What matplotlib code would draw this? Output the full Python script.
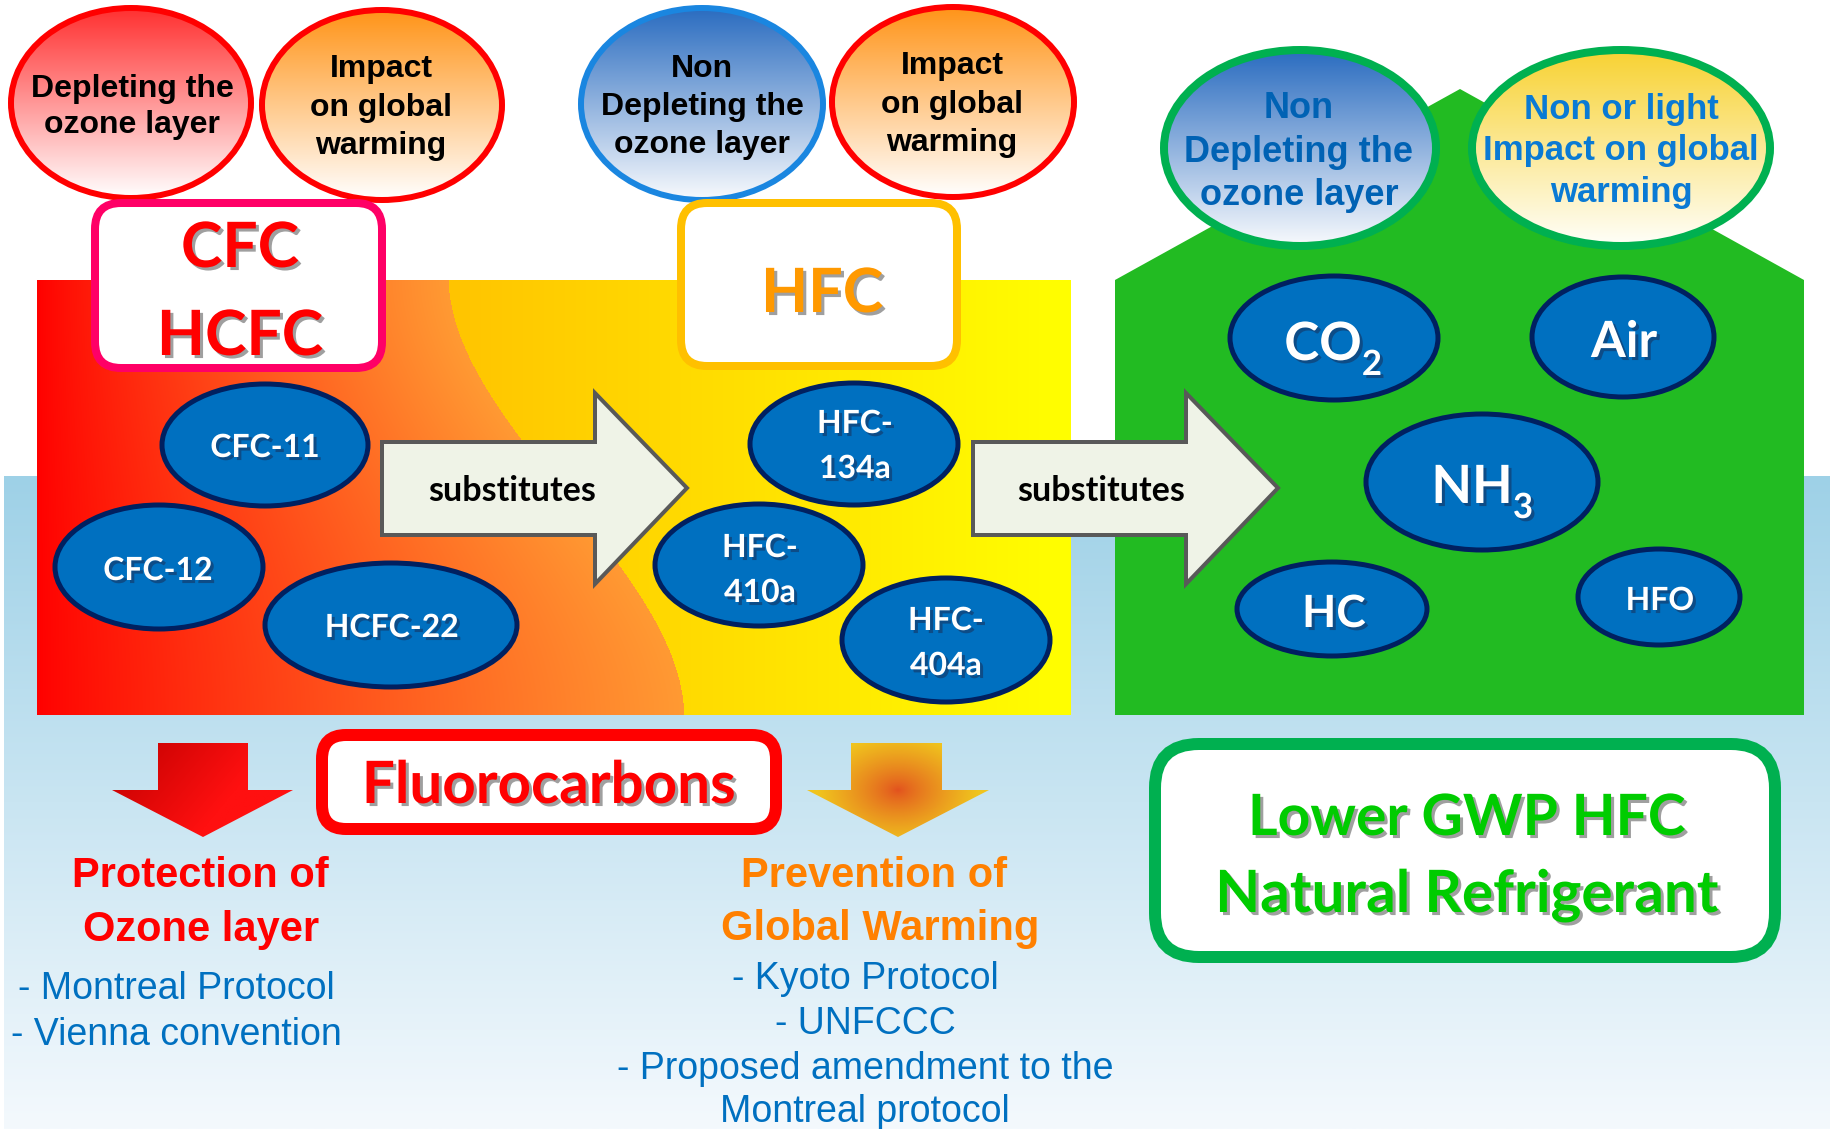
import numpy as np
import matplotlib
matplotlib.use("Agg")
import matplotlib.pyplot as plt
from matplotlib.patches import Ellipse, FancyBboxPatch, Polygon
from matplotlib.colors import to_rgb
import matplotlib.patheffects as pe

# ---------------- content ----------------
old_group_labels = ["CFC", "HCFC"]
hfc_group_label = "HFC"
old_refrigerants = ["CFC-11", "CFC-12", "HCFC-22"]
hfc_refrigerants = [["HFC-", "134a"], ["HFC-", "410a"], ["HFC-", "404a"]]
natural_refrigerants = ["Air", "HC", "HFO"]
subscripted = [("CO", "2"), ("NH", "3")]
arrow_label = "substitutes"
bubble_cfc = [["Depleting the", "ozone layer"], ["Impact", "on global", "warming"]]
bubble_hfc = [["Non", "Depleting the", "ozone layer"], ["Impact", "on global", "warming"]]
bubble_nat = [["Non", "Depleting the", "ozone layer"], ["Non or light", "Impact on global", "warming"]]
center_label = "Fluorocarbons"
ozone_title = ["Protection of", "Ozone layer"]
ozone_items = ["- Montreal Protocol", "- Vienna convention"]
climate_title = ["Prevention of", "Global Warming"]
climate_items = ["- Kyoto Protocol", "- UNFCCC", "- Proposed amendment to the", "Montreal protocol"]
future_label = ["Lower GWP HFC", "Natural Refrigerant"]

# ---------------- figure ----------------
W, H = 1831, 1129
PX = 0.72  # points per pixel at dpi 100
fig = plt.figure(figsize=(W / 100, H / 100), dpi=100)
ax = fig.add_axes([0, 0, 1, 1])
ax.set_xlim(0, W)
ax.set_ylim(H, 0)
ax.axis("off")
ax.set_autoscale_on(False)

ARIAL = "Liberation Sans"
CALIBRI = "Lato"


def lerp(c0, c1, t):
    a = np.array(to_rgb(c0))
    b = np.array(to_rgb(c1))
    t = np.asarray(t)[..., None]
    return a + (b - a) * t


def vgrad(top, bottom, n=256):
    t = np.linspace(0, 1, n)
    g = lerp(top, bottom, t)
    return np.repeat(g[:, None, :], 2, axis=1)


def clipped(arr, extent, clip, z):
    im = ax.imshow(arr, extent=extent, origin="upper", aspect="auto",
                   interpolation="bilinear", zorder=z)
    clip.set_transform(ax.transData)
    im.set_clip_path(clip)
    return im


def grad_ellipse(c, rx, ry, top, bottom, edge, lw, z=4):
    cx, cy = c
    clipped(vgrad(top, bottom), (cx - rx, cx + rx, cy + ry, cy - ry),
            Ellipse((cx, cy), 2 * rx, 2 * ry), z)
    ax.add_patch(Ellipse((cx, cy), 2 * rx, 2 * ry, fc="none", ec=edge,
                         lw=lw * PX, zorder=z + 0.5))


def txt(x, base, s, size, color, fam=ARIAL, weight="bold", ha="center",
        shadow=None, z=20):
    t = ax.text(x, base, s, fontsize=size, color=color, family=fam,
                fontweight=weight, ha=ha, va="baseline", zorder=z)
    if shadow:
        t.set_path_effects([pe.withSimplePatchShadow(offset=(2.2, -2.2),
                                                     shadow_rgbFace=shadow,
                                                     alpha=0.5)])
    return t


def molecule(c, rx, ry, z=8):
    ax.add_patch(Ellipse(c, 2 * rx, 2 * ry, fc="#0070c0", ec="#002060",
                         lw=5 * PX, zorder=z))


def rbox(x0, y0, x1, y1, r, ec, lw, z=6):
    ax.add_patch(FancyBboxPatch((x0, y0), x1 - x0, y1 - y0,
                                boxstyle=f"round,pad=0,rounding_size={r}",
                                fc="white", ec=ec, lw=lw * PX, zorder=z))


# ---------------- background ----------------
ax.imshow(vgrad("#9ed1e7", "#f4f9fd"), extent=(4, W, H, 476), origin="upper",
          aspect="auto", interpolation="bilinear", zorder=0)

# red / yellow band with a smooth curved boundary
x0, x1, y0, y1 = 37, 1071, 280, 715
xs = np.arange(x0, x1) + 0.5
ys = np.arange(y0, y1) + 0.5
curve = np.polyfit([280, 380, 413, 440, 580, 647, 715],
                   [449, 480, 502, 523, 631, 666, 685], 3)
bx = np.polyval(curve, ys)
X, Y = np.meshgrid(xs, ys)
bxx = bx[:, None]
tL = np.clip((X - x0) / (bxx - x0), 0, 1) ** 0.85
tR = np.clip((X - 449) / (x1 - 449), 0, 1)
band = np.where((X < bxx)[..., None], lerp("#ff0000", "#ff9a33", tL),
                lerp("#ffc400", "#ffff00", tR))
ax.imshow(band, extent=(x0, x1, y1, y0), origin="upper", aspect="auto",
          interpolation="bilinear", zorder=1)

# green house
ax.add_patch(Polygon([(1115, 715), (1115, 280), (1460, 89), (1804, 280),
                      (1804, 715)], closed=True, fc="#22bb22", ec="none",
                     zorder=1))

# ---------------- top bubbles ----------------
RED = "#ff0000"
grad_ellipse((131, 103), 120, 95, "#ff3030", "#ffffff", RED, 6)
grad_ellipse((382, 105), 120, 95, "#ff9418", "#ffffff", RED, 6)
grad_ellipse((702, 104), 121, 96, "#2a6cc0", "#f8fafd", "#1a86e0", 6)
grad_ellipse((953, 102), 121, 95, "#ff9418", "#ffffff", RED, 6)
grad_ellipse((1300, 148), 136, 98, "#2a6cc0", "#f8fafd", "#00b050", 8)
grad_ellipse((1621, 148), 149, 98, "#f8d232", "#fffffa", "#00b050", 8)

for s, b in zip(bubble_cfc[0], [97, 133]):
    txt(132, b, s, 23, "black")
for s, b in zip(bubble_cfc[1], [77, 116, 154]):
    txt(381, b, s, 23, "black")
for s, b in zip(bubble_hfc[0], [77, 115, 153]):
    txt(702, b, s, 23, "black")
for s, b in zip(bubble_hfc[1], [74, 113, 151]):
    txt(952, b, s, 23, "black")
for s, b in zip(bubble_nat[0], [118, 162, 205]):
    txt(1299, b, s, 26, "#0062b4")
for s, b in zip(bubble_nat[1], [119, 160, 202]):
    txt(1621, b, s, 25, "#0a7ad4")

# ---------------- group boxes ----------------
rbox(95, 203, 382, 368, 26, "#ff0066", 8)
txt(240, 267, old_group_labels[0], 45, RED, CALIBRI, shadow="#404040")
txt(240, 355, old_group_labels[1], 45, RED, CALIBRI, shadow="#404040")
rbox(681, 203, 957, 366, 26, "#ffc000", 8)
txt(822, 312, hfc_group_label, 44, "#ff9900", CALIBRI, shadow="#404040")

# ---------------- substitutes arrows ----------------
for xa in (382, 973):
    L = xa
    B = xa + 213
    T = xa + 305
    ax.add_patch(Polygon([(L, 442), (B, 442), (B, 393), (T, 488), (B, 584),
                          (B, 535), (L, 535)], closed=True, fc="#eff3e7",
                         ec="#595959", lw=4 * PX, zorder=5, joinstyle="miter"))
txt(512, 501, arrow_label, 24.5, "black", CALIBRI)
txt(1101, 501, arrow_label, 24.5, "black", CALIBRI)

# ---------------- molecules ----------------
mol_old = [((265, 445), 103, 61), ((159, 567), 104, 62), ((391, 625), 126, 62)]
mol_old_text = [(265, 457), (158, 580), (392, 637)]
for (c, rx, ry), s, (tx, tb) in zip(mol_old, old_refrigerants, mol_old_text):
    molecule(c, rx, ry)
    txt(tx, tb, s, 23, "white", CALIBRI, shadow="#1a2a50", z=21)

mol_hfc = [((854, 444), 104, 61), ((759, 565), 104, 61), ((946, 640), 104, 62)]
mol_hfc_text = [(855, 433, 478), (760, 557, 602), (946, 630, 675)]
for (c, rx, ry), lines, (tx, b1, b2) in zip(mol_hfc, hfc_refrigerants, mol_hfc_text):
    molecule(c, rx, ry)
    txt(tx, b1, lines[0], 23, "white", CALIBRI, shadow="#1a2a50", z=21)
    txt(tx, b2, lines[1], 23, "white", CALIBRI, shadow="#1a2a50", z=21)

# natural refrigerants
molecule((1334, 338), 104, 62)
molecule((1623, 337), 91, 60)
molecule((1482, 482), 116, 68)
molecule((1332, 609), 95, 47)
molecule((1659, 597), 81, 48)

sub_pos = [((1323, 360), (1372, 375)), ((1472, 503), (1523, 518))]
for (main, sub), ((mx, mb), (sx, sb)) in zip(subscripted, sub_pos):
    txt(mx, mb, main, 38, "white", CALIBRI, shadow="#1a2a50", z=21)
    txt(sx, sb, sub, 25, "white", CALIBRI, shadow="#1a2a50", z=21)

nat_pos = [(1624, 357, 36), (1334, 627, 32), (1660, 610, 23)]
for s, (tx, tb, fs) in zip(natural_refrigerants, nat_pos):
    txt(tx, tb, s, fs, "white", CALIBRI, shadow="#1a2a50", z=21)

# ---------------- bottom: down arrows ----------------
red_arrow = Polygon([(158, 743), (248, 743), (248, 790), (293, 790), (203, 837),
                     (112, 790), (158, 790)], closed=True)
ax_x = np.linspace(112, 293, 200)
ax_y = np.linspace(743, 837, 120)
AX, AY = np.meshgrid(ax_x, ax_y)
tt = np.clip(((AX - 112) / 181 * 0.7 + (AY - 743) / 94 * 0.3), 0, 1)
clipped(lerp("#c00000", "#ff1010", np.clip(tt * 1.6, 0, 1)),
        (112, 293, 837, 743), red_arrow, 5)

org_arrow = Polygon([(851, 743), (942, 743), (942, 790), (989, 790), (898, 837),
                     (807, 790), (851, 790)], closed=True)
ox = np.linspace(807, 989, 200)
oy = np.linspace(743, 837, 120)
OX, OY = np.meshgrid(ox, oy)
rr = np.clip(np.hypot((OX - 898) / 80, (OY - 790) / 55), 0, 1)
clipped(lerp("#e2501e", "#f0c41e", rr ** 0.8), (807, 989, 837, 743),
        org_arrow, 5)

# Fluorocarbons box
rbox(322, 735, 776, 829, 24, RED, 12)
txt(549, 803, center_label, 42, RED, CALIBRI, shadow="#404040")

# ---------------- bottom texts ----------------
txt(200, 887, ozone_title[0], 30, RED)
txt(201, 941, ozone_title[1], 30, RED)
txt(18, 999, ozone_items[0], 27, "#0070c0", weight="normal", ha="left")
txt(11, 1045, ozone_items[1], 27, "#0070c0", weight="normal", ha="left")

txt(874, 887, climate_title[0], 30, "#ff8000")
txt(880, 940, climate_title[1], 30, "#ff8000")
for s, b in zip(climate_items, [989, 1034, 1079, 1122]):
    txt(865, b, s, 27, "#0070c0", weight="normal")

# future box
rbox(1155, 744, 1775, 957, 44, "#00b050", 12)
txt(1467, 835, future_label[0], 41, "#00cc00", CALIBRI, shadow="#404040")
txt(1467, 912, future_label[1], 42, "#00cc00", CALIBRI, shadow="#404040")

ax.set_xlim(0, W)
ax.set_ylim(H, 0)
fig.savefig("out.png", dpi=100)
